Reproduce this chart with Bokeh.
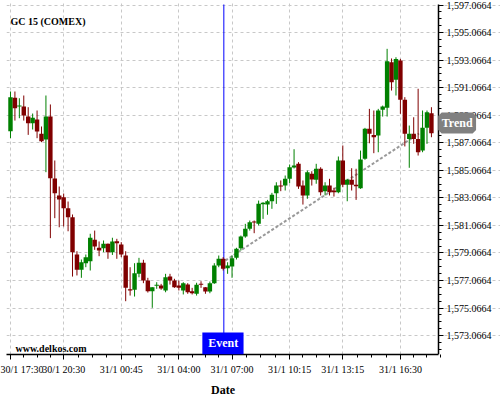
from bokeh.plotting import figure
from bokeh.models import (Range1d, FixedTicker, Label, BoxAnnotation, ColumnDataSource,
                          NumeralTickFormatter, Title)
from bokeh.embed import file_html
from bokeh.resources import INLINE

# ---- data (15-minute candles, index-based x) ----
OPEN = [1587.91, 1590.33, 1589.70, 1589.70, 1588.97, 1588.49, 1588.76, 1587.72, 1587.30, 1588.97,
        1584.47, 1583.24, 1583.11, 1582.31, 1581.66, 1578.95, 1577.84, 1578.32, 1578.47, 1580.02,
        1579.44, 1579.41, 1579.73, 1579.12, 1579.92, 1579.68, 1578.88, 1576.43, 1576.39, 1577.55,
        1578.35, 1577.06, 1576.29, 1576.68, 1576.70, 1576.34, 1577.35, 1577.06, 1576.70, 1576.34,
        1576.77, 1576.29, 1576.10, 1576.82, 1576.58, 1576.27, 1576.87, 1578.15, 1578.64, 1577.96,
        1578.08, 1578.71, 1579.41, 1580.26, 1580.82, 1581.35, 1581.18, 1582.61, 1582.58, 1582.82,
        1583.40, 1583.96, 1583.96, 1584.45, 1585.27, 1585.54, 1583.96, 1583.24, 1584.81, 1584.38,
        1585.18, 1583.55, 1583.96, 1583.60, 1583.48, 1585.78, 1584.01, 1584.38, 1584.01, 1583.77,
        1585.90, 1588.08, 1587.64, 1587.59, 1589.46, 1589.61, 1592.92, 1591.64, 1593.04, 1590.19,
        1587.35, 1587.72, 1587.35, 1586.50, 1588.15, 1589.21]
HIGH = [1590.79, 1590.79, 1590.30, 1590.50, 1589.65, 1589.19, 1589.41, 1588.25, 1590.50, 1589.85,
        1585.78, 1583.89, 1583.38, 1582.80, 1581.86, 1579.19, 1578.59, 1578.95, 1580.46, 1580.69,
        1579.90, 1579.97, 1579.75, 1580.17, 1580.09, 1579.85, 1579.19, 1578.03, 1578.32, 1578.71,
        1578.57, 1577.26, 1576.58, 1576.94, 1576.82, 1577.55, 1577.55, 1577.19, 1577.06, 1576.94,
        1576.87, 1576.53, 1576.90, 1577.01, 1576.58, 1576.99, 1578.32, 1578.88, 1578.76, 1578.39,
        1578.88, 1579.44, 1580.33, 1581.18, 1581.42, 1581.42, 1582.87, 1582.75, 1582.92, 1583.43,
        1584.20, 1584.33, 1584.69, 1585.49, 1586.60, 1585.66, 1584.33, 1585.05, 1585.00, 1585.54,
        1585.29, 1584.20, 1584.45, 1583.80, 1586.07, 1586.87, 1584.45, 1585.22, 1585.18, 1586.50,
        1588.15, 1589.53, 1589.41, 1589.53, 1589.77, 1593.89, 1593.19, 1593.28, 1593.16, 1590.38,
        1588.32, 1588.92, 1590.99, 1589.41, 1589.41, 1589.65]
LOW = [1587.40, 1588.68, 1588.85, 1588.68, 1587.64, 1588.03, 1587.40, 1587.11, 1584.93, 1580.14,
       1581.59, 1580.93, 1580.99, 1580.64, 1577.35, 1577.43, 1577.26, 1578.03, 1577.79, 1579.29,
       1578.83, 1579.12, 1578.64, 1578.92, 1578.64, 1578.76, 1575.56, 1575.97, 1575.90, 1577.30,
       1576.87, 1576.19, 1575.08, 1576.46, 1576.39, 1576.21, 1576.77, 1576.53, 1576.34, 1576.05,
       1576.10, 1576.05, 1575.97, 1576.53, 1576.10, 1576.14, 1576.82, 1578.03, 1577.79, 1577.55,
       1577.26, 1578.59, 1579.24, 1580.17, 1580.69, 1580.50, 1581.06, 1581.54, 1581.84, 1582.27,
       1582.63, 1583.55, 1583.60, 1584.13, 1585.20, 1583.72, 1582.58, 1583.00, 1583.96, 1584.09,
       1583.24, 1583.24, 1583.24, 1583.16, 1583.40, 1583.84, 1582.82, 1583.60, 1582.92, 1583.72,
       1585.83, 1587.03, 1586.31, 1586.38, 1588.97, 1588.97, 1590.86, 1590.50, 1589.17, 1586.80,
       1585.25, 1586.99, 1586.14, 1586.38, 1586.99, 1587.47]
CLOSE = [1590.38, 1589.58, 1589.77, 1589.05, 1588.49, 1588.88, 1587.88, 1587.18, 1588.97, 1584.49,
         1583.40, 1582.95, 1582.31, 1581.66, 1579.12, 1577.84, 1578.39, 1578.76, 1580.17, 1579.53,
         1579.24, 1579.73, 1579.12, 1579.90, 1579.77, 1578.95, 1576.53, 1576.34, 1577.59, 1578.35,
         1577.06, 1576.29, 1576.58, 1576.75, 1576.48, 1577.30, 1577.06, 1576.58, 1576.53, 1576.87,
         1576.21, 1576.14, 1576.75, 1576.75, 1576.27, 1576.87, 1578.15, 1578.64, 1577.91, 1578.15,
         1578.68, 1579.37, 1580.26, 1580.82, 1581.30, 1581.28, 1582.63, 1582.71, 1582.82, 1583.29,
         1583.96, 1583.89, 1584.45, 1585.29, 1585.42, 1583.89, 1583.24, 1584.93, 1584.40, 1585.18,
         1583.48, 1583.96, 1583.48, 1583.48, 1585.78, 1584.01, 1584.38, 1584.01, 1583.91, 1585.85,
         1588.08, 1587.72, 1587.47, 1589.41, 1589.70, 1592.99, 1591.46, 1593.16, 1590.19, 1587.72,
         1587.72, 1587.35, 1586.38, 1588.15, 1589.29, 1587.76]

X_TICK_POS = [0, 12, 25, 38, 50, 63, 75, 88]
X_TICK_LABELS = ["30/1 17:30", "30/1 20:30", "31/1 00:45", "31/1 04:00",
                 "31/1 07:00", "31/1 10:15", "31/1 13:15", "31/1 16:30"]
Y_TICKS = [1573.0664, 1575.0664, 1577.0664, 1579.0664, 1581.0664, 1583.0664, 1585.0664,
           1587.0664, 1589.0664, 1591.0664, 1593.0664, 1595.0664, 1597.0664]

EVENT_INDEX = 48.15
TREND_X = [48.5, 92.2]
TREND_Y = [1578.52, 1587.74]

FONT = "Liberation Serif"
UP, DOWN = "#008000", "#800000"
X_START, X_AXIS_END, X_FRAME_END = -0.9, 96.6, 110.59
Y_BOTTOM, Y_AXIS_TOP, Y_FRAME_TOP = 1571.69, 1597.11, 1597.40

n = len(OPEN)
idx = list(range(n))
colors = [UP if c >= o else DOWN for o, c in zip(OPEN, CLOSE)]
src = ColumnDataSource(dict(
    x=idx, high=HIGH, low=LOW,
    top=[max(o, c) for o, c in zip(OPEN, CLOSE)],
    bottom=[min(o, c) for o, c in zip(OPEN, CLOSE)],
    color=colors))

p = figure(frame_width=494, frame_height=354,
           x_range=Range1d(X_START, X_FRAME_END), y_range=Range1d(Y_BOTTOM, Y_FRAME_TOP),
           y_axis_location="right", output_backend="svg", toolbar_location=None,
           min_border_left=6, min_border_top=0, min_border_right=0, min_border_bottom=0,
           background_fill_color="white", border_fill_color="white")
p.outline_line_color = None

# ticks
minor_x = []
for a, b in zip(X_TICK_POS[:-1], X_TICK_POS[1:]):
    minor_x += [a + (b - a) * k / 4 for k in range(1, 4)]
minor_x += [X_TICK_POS[-1] + 3 * k for k in range(1, 4)]
xt = FixedTicker(ticks=X_TICK_POS, minor_ticks=minor_x)
minor_y = [Y_TICKS[0] - 1.5 + 0.5 * k for k in range(0, 52)]
yt = FixedTicker(ticks=Y_TICKS, minor_ticks=minor_y)
p.xaxis.ticker = xt
p.xgrid.ticker = xt
p.yaxis.ticker = yt
p.ygrid.ticker = yt
p.xaxis.major_label_overrides = {pos: lab for pos, lab in zip(X_TICK_POS, X_TICK_LABELS)}
p.yaxis.formatter = NumeralTickFormatter(format="0,0.0000")
p.yaxis.fixed_location = X_AXIS_END
p.yaxis.bounds = (Y_BOTTOM, Y_AXIS_TOP)
p.xaxis.bounds = (X_START, X_AXIS_END)
p.ygrid.bounds = (X_START, X_AXIS_END)
p.xgrid.bounds = (Y_BOTTOM, Y_AXIS_TOP)

p.grid.grid_line_color = "#c8c8c8"
p.grid.grid_line_dash = "3 3"
p.grid.grid_line_width = 1

for ax in (p.xaxis, p.yaxis):
    ax.axis_line_color = "black"
    ax.axis_line_width = 1.5
    ax.major_tick_line_color = "black"
    ax.minor_tick_line_color = "black"
    ax.major_tick_out = 5
    ax.major_tick_in = 0
    ax.minor_tick_out = 3
    ax.minor_tick_in = 0
    ax.major_label_text_font = FONT
    ax.major_label_text_font_size = "10px"
    ax.major_label_text_color = "black"
p.xaxis.major_label_standoff = 4
p.yaxis.major_label_standoff = 3

# x-axis title "Date", centred under the axis line (not the whole frame)
p.add_layout(Title(text="Date", align="left", offset=204.5, standoff=6,
                   text_font=FONT, text_font_size="12px", text_font_style="bold",
                   text_color="black"), "below")

# event line
p.segment(x0=[EVENT_INDEX], y0=[Y_BOTTOM], x1=[EVENT_INDEX], y1=[Y_AXIS_TOP],
          line_color="#0000ff", line_width=1)

# trend line
p.line(TREND_X, TREND_Y, line_color="#999999", line_width=2, line_dash="3 2")

# candles
p.segment(x0="x", y0="high", x1="x", y1="low", color="color", line_width=1, source=src)
p.vbar(x="x", top="top", bottom="bottom", width=1.0, fill_color="color", line_color=None, source=src)

# annotations
p.add_layout(Label(x=0, y=1595.87, text="GC 15 (COMEX)", text_font=FONT, text_font_size="10px",
                   text_font_style="bold", text_baseline="middle", text_align="left", text_color="black"))
p.add_layout(Label(x=1.13, y=1572.12, text="www.delkos.com", text_font=FONT, text_font_size="10px",
                   text_font_style="bold", text_baseline="middle", text_align="left", text_color="black"))
p.add_layout(BoxAnnotation(left=43.3, right=52.6, top=1573.28, bottom=Y_BOTTOM,
                           fill_color="#0000ff", fill_alpha=1, line_color=None))
p.add_layout(Label(x=48, y=1572.49, text="Event", text_font=FONT, text_font_size="12px",
                   text_font_style="bold", text_baseline="middle", text_align="center", text_color="white"))
p.add_layout(Label(x=100.8, y=1588.50, text="Trend",
                   text_font=FONT, text_font_size="12px",
                   text_font_style="bold", text_baseline="middle", text_align="center", text_color="white",
                   background_fill_color="#808080", border_line_color="#808080", border_line_width=7))

open("out.html", "w").write(file_html(p, INLINE))
